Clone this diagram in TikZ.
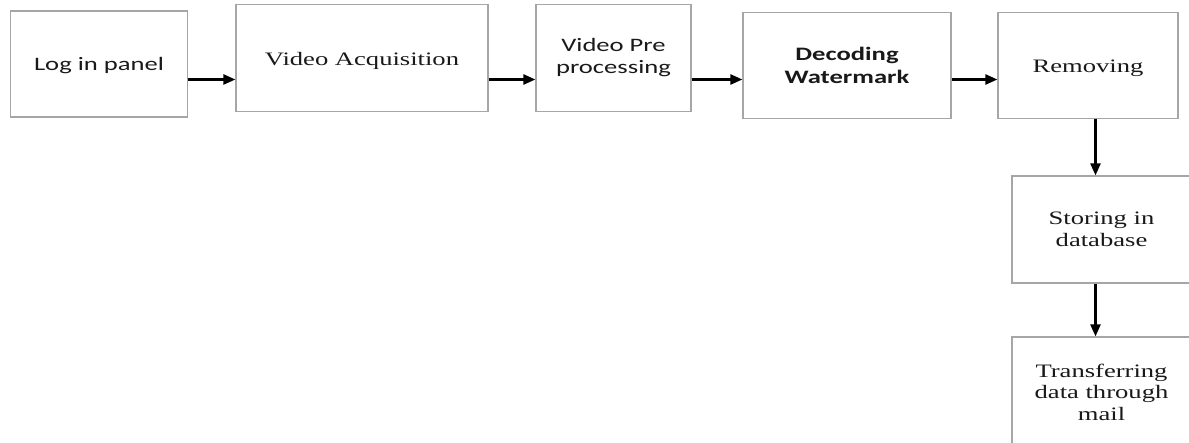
\documentclass[tikz,border=0pt]{standalone}
\usepackage{fontspec}
\setmainfont[FakeStretch=1.4]{Liberation Serif}
\newfontfamily\calfont[FakeStretch=1.4]{Carlito}
\usetikzlibrary{arrows.meta}
\begin{document}
\begin{tikzpicture}[x=1pt,y=-1pt,
  box/.style={draw=black!35,line width=1.2pt,inner sep=0pt,align=center,text=black!90,
    font=\fontsize{19}{22}\selectfont},
  calbox/.style={box,font=\calfont\fontsize{19}{22.5}\selectfont},
  arr/.style={line width=2.4pt,-{Triangle[length=12pt,width=10pt]}}]
\useasboundingbox (0,0) rectangle (1189,443);
\clip (0,0) rectangle (1189,443);
\node[calbox,minimum width=177pt,minimum height=106pt,text height=13.5pt,text depth=0pt] (b1) at (99,64) {Log in panel};
\node[box,minimum width=252pt,minimum height=107pt,text height=15pt,text depth=0pt] (b2) at (362,57.7) {Video Acquisition};
\node[calbox,minimum width=155pt,minimum height=107pt] (b3) at (613.5,57.7) {Video Pre\\processing};
\node[calbox,minimum width=208pt,minimum height=106pt,font=\calfont\bfseries\fontsize{19}{23}\selectfont] (b4) at (847,65.3) {Decoding\\Watermark};
\node[box,minimum width=180pt,minimum height=106pt,text height=14pt,text depth=0pt] (b5) at (1088,65.3) {Removing};
\node[box,minimum width=179pt,minimum height=107pt] (b6) at (1101.5,229.5) {Storing in\\database};
\node[box,minimum width=179pt,minimum height=110pt,font=\fontsize{19}{21.5}\selectfont] (b7) at (1101.5,392) {Transferring\\data through\\mail};
\coordinate (hy) at (0,79.5);
\coordinate (vx) at (1095.5,0);
\draw[arr] (b1.east |- hy) -- (b2.west |- hy);
\draw[arr] (b2.east |- hy) -- (b3.west |- hy);
\draw[arr] (b3.east |- hy) -- (b4.west |- hy);
\draw[arr] (b4.east |- hy) -- (b5.west |- hy);
\draw[arr] (b5.south -| vx) -- (b6.north -| vx);
\draw[arr] (b6.south -| vx) -- (b7.north -| vx);
\end{tikzpicture}
\end{document}
